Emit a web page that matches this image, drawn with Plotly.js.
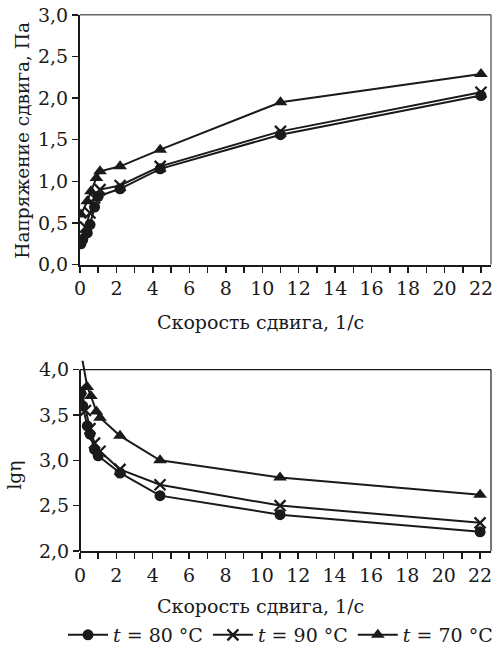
<!DOCTYPE html>
<html>
<head>
<meta charset="utf-8">
<script src="https://cdn.plot.ly/plotly-3.0.1.min.js"></script>
<style>html,body{margin:0;padding:0;background:#fff}#chart{width:498px;height:654px}</style>
</head>
<body>
<div id="chart"></div>
<script>
// Shear rate, 1/s
const x80 = [0.05, 0.15, 0.4, 0.55, 0.8, 1.0, 2.2, 4.4, 11, 22];
const x90 = [0.05, 0.3, 0.55, 0.8, 1.1, 2.2, 4.4, 11, 22];
const x70 = [0.05, 0.4, 0.6, 0.9, 1.1, 2.2, 4.4, 11, 22];
// Shear stress, Pa
const stress80 = [0.25, 0.30, 0.38, 0.48, 0.69, 0.82, 0.91, 1.15, 1.56, 2.03];
const stress90 = [0.33, 0.45, 0.62, 0.80, 0.90, 0.95, 1.18, 1.60, 2.07];
const stress70 = [0.60, 0.76, 0.88, 1.04, 1.12, 1.18, 1.38, 1.95, 2.29];
// lg(viscosity)
const lgEta80 = [3.74, 3.60, 3.38, 3.29, 3.12, 3.05, 2.86, 2.61, 2.40, 2.21];
const lgEta90 = [3.79, 3.55, 3.35, 3.19, 3.10, 2.90, 2.73, 2.50, 2.31];
const lgEta70 = [4.20, 3.81, 3.71, 3.54, 3.47, 3.27, 3.00, 2.81, 2.62];
const xTickVals = [0, 2, 4, 6, 8, 10, 12, 14, 16, 18, 20, 22];
const legendNames = ['<i>t</i> = 80 °C', '<i>t</i> = 90 °C', '<i>t</i> = 70 °C'];
const xTitle = 'Скорость сдвига, 1/с';
const yTitleTop = 'Напряжение сдвига, Па';
const yTitleBottom = 'lgη';

const ink = '#1a1a1a';
const FONT = 'DejaVu Serif, serif';
const mk = [
  {symbol: 'circle', size: 11, color: ink},
  {symbol: 'x-thin-open', size: 11, color: ink, line: {width: 2.3, color: ink}},
  {symbol: 'triangle-up', size: 12, color: ink}
];
const xs = [x80, x90, x70];
const tops = [stress80, stress90, stress70];
const bots = [lgEta80, lgEta90, lgEta70];
const traces = [];
for (let i = 0; i < 3; i++) {
  traces.push({x: xs[i], y: tops[i], type: 'scatter', mode: 'lines+markers', name: legendNames[i],
    line: {color: ink, width: 2}, marker: mk[i], xaxis: 'x', yaxis: 'y', showlegend: true});
}
for (let i = 0; i < 3; i++) {
  traces.push({x: xs[i], y: bots[i], type: 'scatter', mode: 'lines+markers', name: legendNames[i],
    line: {color: ink, width: 2}, marker: mk[i], xaxis: 'x2', yaxis: 'y2', showlegend: false});
}
const W = 498, H = 654;
const xDom = [80 / W, 491 / W];
const common = {
  tickfont: {family: FONT, size: 19, color: ink},
  ticks: 'outside', ticklen: 6, tickwidth: 1.5, tickcolor: ink,
  showgrid: false, zeroline: false, fixedrange: true
};
const minorX = {dtick: 1, tick0: 0, ticks: 'outside', ticklen: 6, tickwidth: 1.5, tickcolor: ink};
const layout = {
  width: W, height: H,
  margin: {l: 0, r: 0, t: 0, b: 0},
  paper_bgcolor: '#fff', plot_bgcolor: '#fff',
  separators: ', ',
  font: {family: FONT, color: ink},
  showlegend: true,
  legend: {orientation: 'h', x: 1, xanchor: 'right', y: 1 - 641 / H, yanchor: 'middle',
    font: {family: FONT, size: 19, color: ink}, itemwidth: 40, tracegroupgap: 0},
  xaxis: Object.assign({}, common, {domain: xDom, anchor: 'y', range: [0, 22.55], tickvals: xTickVals,
    minor: minorX, showline: true, linewidth: 2, linecolor: ink}),
  yaxis: Object.assign({}, common, {domain: [1 - 267 / H, 1 - 15 / H], anchor: 'x', range: [0, 3], dtick: 0.5, tickformat: '.1f',
    showline: true, linewidth: 2, linecolor: ink}),
  xaxis2: Object.assign({}, common, {domain: xDom, anchor: 'y2', range: [0, 22.6], tickvals: xTickVals,
    minor: minorX, showline: true, linewidth: 2, linecolor: ink}),
  yaxis2: Object.assign({}, common, {domain: [1 - 556 / H, 1 - 364 / H], anchor: 'x2', range: [2, 4.1], tickvals: [2, 2.5, 3, 3.5, 4], tickformat: '.1f',
    showline: false}),
  annotations: [
    {text: xTitle, xref: 'paper', yref: 'paper', x: 260 / W, y: 1 - 325 / H, xanchor: 'center', yanchor: 'middle', showarrow: false,
      font: {family: FONT, size: 19, color: ink}},
    {text: xTitle, xref: 'paper', yref: 'paper', x: 260 / W, y: 1 - 612 / H, xanchor: 'center', yanchor: 'middle', showarrow: false,
      font: {family: FONT, size: 19, color: ink}},
    {text: yTitleTop, xref: 'paper', yref: 'paper', x: 23 / W, y: 1 - 142 / H, xanchor: 'center', yanchor: 'middle', showarrow: false, textangle: -90,
      font: {family: FONT, size: 18.5, color: ink}},
    {text: yTitleBottom, xref: 'paper', yref: 'paper', x: 15 / W, y: 1 - 480 / H, xanchor: 'center', yanchor: 'middle', showarrow: false, textangle: -90,
      font: {family: FONT, size: 18.5, color: ink}}
  ],
  shapes: [
    {type: 'line', xref: 'x domain', yref: 'y domain', x0: 0, x1: 1, y0: 1, y1: 1, line: {color: '#666', width: 1.5}},
    {type: 'line', xref: 'x domain', yref: 'y domain', x0: 1, x1: 1, y0: 0, y1: 1, line: {color: '#444', width: 1.2}},
    {type: 'line', xref: 'x2 domain', yref: 'y2', x0: 0, x1: 1, y0: 4, y1: 4, line: {color: ink, width: 1.2}},
    {type: 'line', xref: 'x2 domain', yref: 'y2', x0: 1, x1: 1, y0: 2, y1: 4, line: {color: ink, width: 1.2}},
    {type: 'line', xref: 'x2 domain', yref: 'y2', x0: 0, x1: 0, y0: 2, y1: 4, line: {color: ink, width: 2}}
  ]
};
Plotly.newPlot('chart', traces, layout, {displayModeBar: false, staticPlot: true});
</script>
</body>
</html>
